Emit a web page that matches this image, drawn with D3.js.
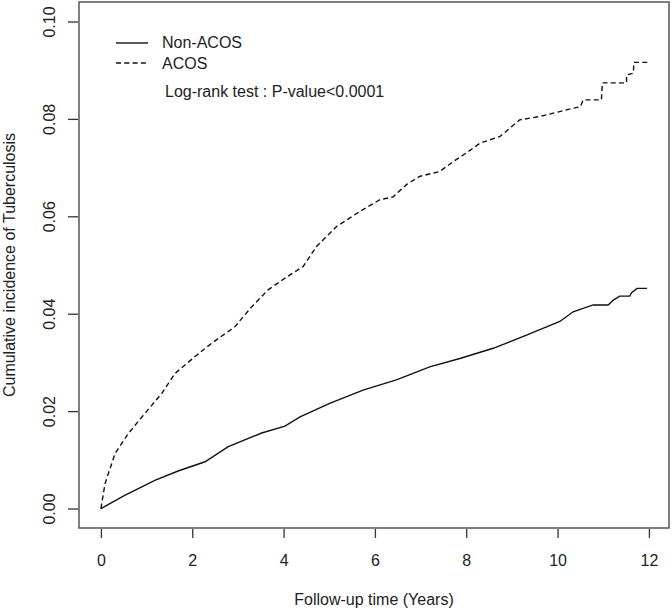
<!DOCTYPE html>
<html>
<head>
<meta charset="utf-8">
<script src="https://cdn.jsdelivr.net/npm/d3@7"></script>
<style>
html,body{margin:0;padding:0;background:#fff;}
svg{display:block;}
text{font-family:"Liberation Sans",Arial,sans-serif;fill:#222;}
</style>
</head>
<body>
<svg id="chart" width="672" height="611"></svg>
<script>
// Data
const nonAcosTime = [0, 0.5, 1.18, 1.69, 2.28, 2.79, 3.52, 4.03, 4.36, 5.01, 5.74, 6.47, 7.2, 7.86, 8.59, 9.32, 10.05, 10.34, 10.78, 11.11, 11.22, 11.36, 11.58, 11.62, 11.74, 11.96];
const nonAcosValue = [0, 0.0026, 0.0058, 0.0077, 0.0096, 0.0127, 0.0155, 0.0169, 0.0188, 0.0216, 0.0243, 0.0264, 0.0291, 0.0308, 0.0329, 0.0356, 0.0384, 0.0404, 0.0418, 0.0418, 0.0428, 0.0436, 0.0436, 0.0443, 0.0452, 0.0452];

const acosTime = [0, 0.09, 0.31, 0.6, 0.96, 1.33, 1.62, 2.06, 2.42, 2.93, 3.3, 3.66, 4.03, 4.43, 4.72, 5.16, 5.67, 6.11, 6.4, 6.69, 6.98, 7.42, 7.71, 8.0, 8.3, 8.74, 9.17, 9.61, 10.05, 10.34, 10.5, 10.56, 10.96, 10.98, 11.51, 11.51, 11.66, 11.67, 11.98];
const acosValue = [0, 0.0051, 0.0113, 0.0154, 0.0195, 0.0236, 0.0277, 0.0312, 0.0339, 0.0373, 0.0414, 0.0449, 0.0473, 0.0497, 0.0538, 0.0579, 0.061, 0.0634, 0.064, 0.0665, 0.0682, 0.0692, 0.0712, 0.073, 0.075, 0.0764, 0.0798, 0.0805, 0.0815, 0.0822, 0.0825, 0.0839, 0.0839, 0.0874, 0.0874, 0.089, 0.0894, 0.0916, 0.0916];

const xTicks = [0, 2, 4, 6, 8, 10, 12];
const yTicks = [0, 0.02, 0.04, 0.06, 0.08, 0.10];
const seriesNames = ["Non-ACOS", "ACOS"];
const xTitle = "Follow-up time (Years)";
const yTitle = "Cumulative incidence of Tuberculosis";
const testText = "Log-rank test : P-value<0.0001";

const svg = d3.select("#chart");
const box = {left: 79, right: 669, top: 2, bottom: 528};

const x = d3.scaleLinear().domain([-0.48, 12.44]).range([box.left, box.right]);
const y = d3.scaleLinear().domain([-0.004, 0.104]).range([box.bottom, box.top]);

// box
svg.append("rect")
  .attr("x", box.left).attr("y", box.top)
  .attr("width", box.right - box.left).attr("height", box.bottom - box.top)
  .attr("fill", "none").attr("stroke", "#555").attr("stroke-width", 1.5);

// x axis
const xAxis = d3.axisBottom(x).tickValues(xTicks).tickSize(9).tickPadding(14).tickFormat(d3.format("d"));
const gx = svg.append("g").attr("transform", `translate(0,${box.bottom + 1})`).call(xAxis);
gx.select(".domain").remove();
gx.selectAll(".tick line").attr("stroke", "#333").attr("stroke-width", 1.3);
gx.selectAll(".tick text").attr("font-size", 16).attr("fill", "#222").attr("dy", null).attr("y", 37);

// y axis
const yAxis = d3.axisLeft(y).tickValues(yTicks).tickSize(10).tickFormat(d3.format(".2f"));
const gy = svg.append("g").attr("transform", `translate(${box.left - 1},0)`).call(yAxis);
gy.select(".domain").remove();
gy.selectAll(".tick line").attr("stroke", "#333").attr("stroke-width", 1.3);
gy.selectAll(".tick text")
  .attr("font-size", 16).attr("fill", "#222")
  .attr("x", null).attr("dy", null)
  .attr("text-anchor", "middle")
  .attr("transform", "translate(-23,0) rotate(-90)");

// titles
svg.append("text").attr("x", (box.left + box.right) / 2).attr("y", 605)
  .attr("text-anchor", "middle").attr("font-size", 16).text(xTitle);
svg.append("text").attr("transform", `translate(15,${(box.top + box.bottom) / 2}) rotate(-90)`)
  .attr("text-anchor", "middle").attr("font-size", 16).text(yTitle);

// lines
const line = d3.line().x(d => x(d[0])).y(d => y(d[1]));
const nonAcos = nonAcosTime.map((t, i) => [t, nonAcosValue[i]]);
const acos = acosTime.map((t, i) => [t, acosValue[i]]);

svg.append("path").datum(nonAcos).attr("d", line)
  .attr("fill", "none").attr("stroke", "#111").attr("stroke-width", 1.4);
svg.append("path").datum(acos).attr("d", line)
  .attr("fill", "none").attr("stroke", "#111").attr("stroke-width", 1.4)
  .attr("stroke-dasharray", "5,3.3");

// legend
const leg = svg.append("g");
leg.append("line").attr("x1", 116).attr("x2", 148).attr("y1", 43).attr("y2", 43)
  .attr("stroke", "#111").attr("stroke-width", 1.4);
leg.append("line").attr("x1", 116).attr("x2", 148).attr("y1", 63).attr("y2", 63)
  .attr("stroke", "#111").attr("stroke-width", 1.4).attr("stroke-dasharray", "5,3.3");
leg.append("text").attr("x", 162).attr("y", 48).attr("font-size", 16).text(seriesNames[0]);
leg.append("text").attr("x", 162).attr("y", 69).attr("font-size", 16).text(seriesNames[1]);
leg.append("text").attr("x", 165).attr("y", 97).attr("font-size", 16).text(testText);
</script>
</body>
</html>
